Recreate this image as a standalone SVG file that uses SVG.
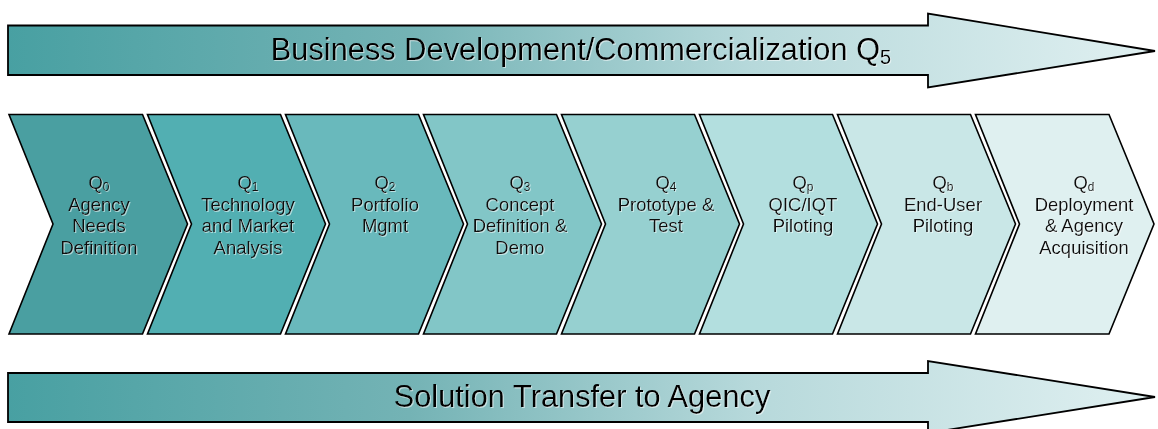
<svg xmlns="http://www.w3.org/2000/svg" width="1158" height="429" viewBox="0 0 1158 429">
  <defs>
    <linearGradient id="barGrad" gradientUnits="userSpaceOnUse" x1="8" y1="0" x2="1155" y2="0">
      <stop offset="0" stop-color="#48a0a2"/>
      <stop offset="0.35" stop-color="#74b3b5"/>
      <stop offset="0.65" stop-color="#b7d9db"/>
      <stop offset="1" stop-color="#e0f0f1"/>
    </linearGradient>
    <filter id="shadow" x="-5%" y="-20%" width="110%" height="140%">
      <feDropShadow dx="1" dy="1" stdDeviation="0.6" flood-color="#ffffff" flood-opacity="0.55"/>
    </filter>
  </defs>
  <style>
    .bar { fill: url(#barGrad); stroke: #000; stroke-width: 1.8; stroke-linejoin: miter; }
    .chev { stroke: #000; stroke-width: 1.6; stroke-linejoin: miter; }
    .big { font-family: "Liberation Sans", Arial, sans-serif; font-size: 30.8px; fill: #000; text-anchor: middle; }
    .lbl { font-family: "Liberation Sans", Arial, sans-serif; font-size: 18.5px; fill: #111; text-anchor: middle; }
    .sub { font-size: 12px; }
    .bigsub { font-size: 20px; }
  </style>

  <g id="arrow-top">
    <path class="bar" d="M8,25.5 H928 V13.5 L1155,51 L928,87.5 V75 H8 Z"/>
    <text class="big" x="581" y="60" filter="url(#shadow)">Business Development/Commercialization Q<tspan class="bigsub" dy="4">5</tspan></text>
  </g>

  <g id="chevrons">
    <g id="q0">
      <path class="chev" fill="#4a9fa1" d="M9,114.5 H142.5 L187.5,224 L142.5,334 H9 L53,224 Z"/>
      <text class="lbl" filter="url(#shadow)"><tspan x="99" y="189">Q<tspan class="sub" dy="2">0</tspan></tspan><tspan x="99" y="210.5">Agency</tspan><tspan x="99" y="232">Needs</tspan><tspan x="99" y="253.5">Definition</tspan></text>
    </g>
    <g id="q1">
      <path class="chev" fill="#52afb2" d="M147.5,114.5 H280.5 L325.5,224 L280.5,334 H147.5 L191.5,224 Z"/>
      <text class="lbl" filter="url(#shadow)"><tspan x="248" y="189">Q<tspan class="sub" dy="2">1</tspan></tspan><tspan x="248" y="210.5">Technology</tspan><tspan x="248" y="232">and Market</tspan><tspan x="248" y="253.5">Analysis</tspan></text>
    </g>
    <g id="q2">
      <path class="chev" fill="#69b9bc" d="M285.5,114.5 H418.5 L463.5,224 L418.5,334 H285.5 L329.5,224 Z"/>
      <text class="lbl" filter="url(#shadow)"><tspan x="385" y="189">Q<tspan class="sub" dy="2">2</tspan></tspan><tspan x="385" y="210.5">Portfolio</tspan><tspan x="385" y="232">Mgmt</tspan></text>
    </g>
    <g id="q3">
      <path class="chev" fill="#82c6c7" d="M423.5,114.5 H556.5 L601.5,224 L556.5,334 H423.5 L467.5,224 Z"/>
      <text class="lbl" filter="url(#shadow)"><tspan x="520" y="189">Q<tspan class="sub" dy="2">3</tspan></tspan><tspan x="520" y="210.5">Concept</tspan><tspan x="520" y="232">Definition &amp;</tspan><tspan x="520" y="253.5">Demo</tspan></text>
    </g>
    <g id="q4">
      <path class="chev" fill="#96d0d0" d="M561.5,114.5 H694.5 L739.5,224 L694.5,334 H561.5 L605.5,224 Z"/>
      <text class="lbl" filter="url(#shadow)"><tspan x="666" y="189">Q<tspan class="sub" dy="2">4</tspan></tspan><tspan x="666" y="210.5">Prototype &amp;</tspan><tspan x="666" y="232">Test</tspan></text>
    </g>
    <g id="qp">
      <path class="chev" fill="#b3dfdf" d="M699.5,114.5 H832.5 L877.5,224 L832.5,334 H699.5 L743.5,224 Z"/>
      <text class="lbl" filter="url(#shadow)"><tspan x="803" y="189">Q<tspan class="sub" dy="2">p</tspan></tspan><tspan x="803" y="210.5">QIC/IQT</tspan><tspan x="803" y="232">Piloting</tspan></text>
    </g>
    <g id="qb">
      <path class="chev" fill="#c9e7e7" d="M837.5,114.5 H970.5 L1015.5,224 L970.5,334 H837.5 L881.5,224 Z"/>
      <text class="lbl" filter="url(#shadow)"><tspan x="943" y="189">Q<tspan class="sub" dy="2">b</tspan></tspan><tspan x="943" y="210.5">End-User</tspan><tspan x="943" y="232">Piloting</tspan></text>
    </g>
    <g id="qd">
      <path class="chev" fill="#dff0f0" d="M975.5,114.5 H1109 L1154,224 L1109,334 H975.5 L1019.5,224 Z"/>
      <text class="lbl" filter="url(#shadow)"><tspan x="1084" y="189">Q<tspan class="sub" dy="2">d</tspan></tspan><tspan x="1084" y="210.5">Deployment</tspan><tspan x="1084" y="232">&amp; Agency</tspan><tspan x="1084" y="253.5">Acquisition</tspan></text>
    </g>
  </g>

  <g id="arrow-bottom">
    <path class="bar" d="M8,373 H928 V361 L1155,397 L928,433 V422 H8 Z"/>
    <text class="big" x="582" y="407" filter="url(#shadow)">Solution Transfer to Agency</text>
  </g>

  <g id="connectors"/>
</svg>
